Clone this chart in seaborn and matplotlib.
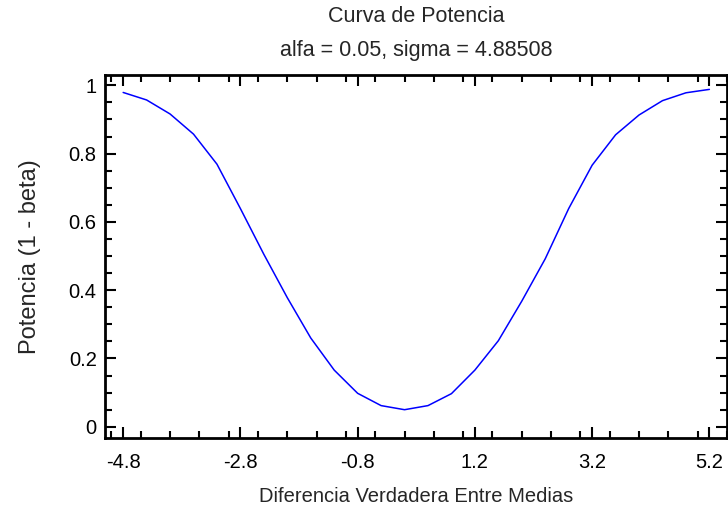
import numpy as np
import pandas as pd
import matplotlib
matplotlib.use("Agg")
import matplotlib.pyplot as plt
import seaborn as sns
from matplotlib.ticker import MultipleLocator

# values
diferencia = [-4.8, -4.4, -4.0, -3.6, -3.2, -2.8, -2.4, -2.0, -1.6, -1.2, -0.8, -0.4, 0.0,
              0.4, 0.8, 1.2, 1.6, 2.0, 2.4, 2.8, 3.2, 3.6, 4.0, 4.4, 4.8, 5.2]
potencia = [0.979, 0.957, 0.916, 0.857, 0.769, 0.639, 0.505, 0.378, 0.260, 0.166, 0.098, 0.062, 0.050,
            0.062, 0.097, 0.166, 0.252, 0.368, 0.492, 0.639, 0.766, 0.855, 0.913, 0.955, 0.978, 0.988]

x_ticks = [-4.8, -2.8, -0.8, 1.2, 3.2, 5.2]
x_labels = ["-4.8", "-2.8", "-0.8", "1.2", "3.2", "5.2"]
y_ticks = [0, 0.2, 0.4, 0.6, 0.8, 1.0]
y_labels = ["0", "0.2", "0.4", "0.6", "0.8", "1"]

df = pd.DataFrame({"x": diferencia, "y": potencia})

sns.set_style("ticks")
plt.rcParams["font.family"] = ["Liberation Sans", "DejaVu Sans"]

fig = plt.figure(figsize=(7.28, 5.07), dpi=100)
ax = fig.add_axes([0.1442, 0.136, 0.8544, 0.716])

sns.lineplot(data=df, x="x", y="y", color="#0000ff", linewidth=1.1, ax=ax)

ax.set_xlim(-5.11, 5.5)
ax.set_ylim(-0.033, 1.03)
ax.set_xticks(x_ticks)
ax.set_xticklabels(x_labels)
ax.set_yticks(y_ticks)
ax.set_yticklabels(y_labels)
ax.xaxis.set_minor_locator(MultipleLocator(0.5))
ax.yaxis.set_minor_locator(MultipleLocator(0.05))

ax.tick_params(which="both", direction="in", top=True, right=True, color="black", width=1.5)
ax.tick_params(which="major", length=8, labelsize=14.5, colors="black")
ax.tick_params(which="minor", length=5)
ax.tick_params(axis="x", which="major", pad=10.5)
ax.tick_params(axis="y", which="major", pad=6)
for s in ax.spines.values():
    s.set_linewidth(2)
    s.set_color("black")

ax.set_xlabel("Diferencia Verdadera Entre Medias", fontsize=14.5, labelpad=11)
ax.set_ylabel("Potencia (1 - beta)", fontsize=17, labelpad=20)
ax.set_title("Curva de Potencia\nalfa = 0.05, sigma = 4.88508", fontsize=15.5, linespacing=1.8, pad=14)

fig.savefig("out.png", dpi=100)
